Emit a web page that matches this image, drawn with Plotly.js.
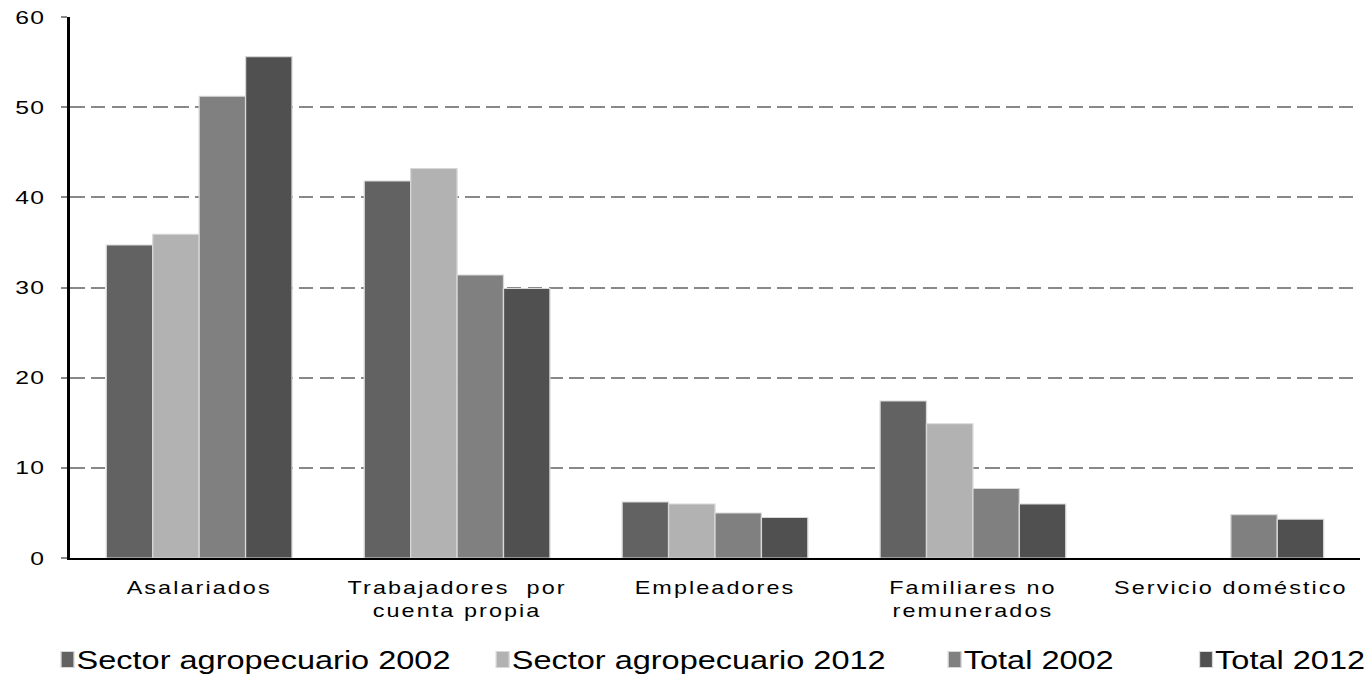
<!DOCTYPE html>
<html>
<head>
<meta charset="utf-8">
<script src="https://cdn.plot.ly/plotly-3.0.1.min.js"></script>
<style>
html,body{margin:0;padding:0;background:#fff;overflow:hidden;}
#chart{width:1052px;height:674px;transform:scaleX(1.3);transform-origin:0 0;}
#chart .xtick text{letter-spacing:1.6px;}
#chart .ytick text{letter-spacing:1px;}
</style>
</head>
<body>
<div id="chart"></div>
<script>
const categories = ["Asalariados", "Trabajadores  por<br>cuenta propia", "Empleadores", "Familiares no<br>remunerados", "Servicio doméstico"];
const seriesNames = ["Sector agropecuario 2002", "Sector agropecuario 2012", "Total 2002", "Total 2012"];
const agro2002 = [34.7, 41.8, 6.2, 17.4, null];
const agro2012 = [35.9, 43.2, 6.0, 14.9, null];
const total2002 = [51.2, 31.4, 5.0, 7.7, 4.8];
const total2012 = [55.6, 29.9, 4.5, 6.0, 4.3];
const yTicks = [0, 10, 20, 30, 40, 50, 60];

const colors = ["#626262", "#b2b2b2", "#808080", "#505050"];
const values = [agro2002, agro2012, total2002, total2012];

const traces = values.map((v, i) => ({
  type: "bar",
  name: seriesNames[i],
  x: categories,
  y: v,
  marker: {color: colors[i], line: {color: "#d8d8d8", width: 1}},
  hoverinfo: "skip"
}));

const layout = {
  width: 1052, height: 674,
  margin: {l: 54, r: 6, t: 17, b: 116},
  paper_bgcolor: "#fff", plot_bgcolor: "#fff",
  font: {family: "Liberation Sans, Arial, sans-serif", color: "#000", size: 17},
  barmode: "group",
  bargap: 0.28,
  bargroupgap: 0,
  showlegend: true,
  legend: {
    orientation: "h", xref: "container", yref: "container",
    x: 0.018, xanchor: "left", y: 0.021, yanchor: "middle",
    font: {size: 25, color: "#000"},
    itemwidth: 30, traceorder: "normal", tracegroupgap: 0
  },
  xaxis: {
    showgrid: false, showline: true, linecolor: "#000", linewidth: 2,
    ticks: "", tickfont: {size: 18}, ticklabelstandoff: 12, fixedrange: true
  },
  yaxis: {
    range: [0, 60], tickvals: yTicks, ticktext: yTicks.map(String),
    showgrid: true, gridcolor: "#888", griddash: "11px,5px", gridwidth: 2,
    showline: true, linecolor: "#000", linewidth: 2.4,
    ticks: "outside", ticklen: 5, tickcolor: "#888", tickwidth: 2,
    ticklabelstandoff: 8,
    zeroline: false, tickfont: {size: 19}, fixedrange: true
  }
};

// extra spacing between legend entries (px, unscaled), as in the reference
const legendExtraGap = [0, 2, 17, 50];

Plotly.newPlot("chart", traces, layout, {displayModeBar: false, staticPlot: true}).then(gd => {
  gd.querySelectorAll(".legend .scrollbox").forEach(s => s.removeAttribute("clip-path"));
  gd.querySelectorAll(".legend .traces").forEach((tr, i) => {
    const pts = tr.querySelector(".legendpoints");
    if (pts) {
      pts.setAttribute("transform", "translate(13,0)");
      pts.querySelectorAll("path").forEach(p => p.setAttribute("d", "M5,8H-5V-8H5Z"));
    }
    const m = /translate\(\s*([-\d.]+)[ ,]+([-\d.]+)\s*\)/.exec(tr.getAttribute("transform") || "");
    if (m) tr.setAttribute("transform", "translate(" + (parseFloat(m[1]) + legendExtraGap[i]) + "," + m[2] + ")");
  });
});
</script>
</body>
</html>
